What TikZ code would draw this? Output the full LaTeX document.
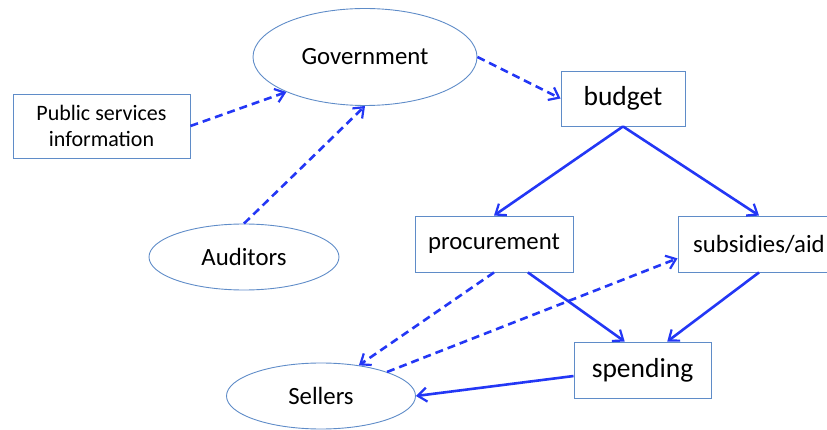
\documentclass[tikz,border=0pt]{standalone}
\usepackage{fontspec}
\setmainfont{Carlito}
\usepackage{xcolor}
\usetikzlibrary{shapes.geometric,arrows.meta}
\definecolor{boxline}{RGB}{95,140,200}
\definecolor{arrowblue}{RGB}{35,55,245}
\begin{document}
\begin{tikzpicture}[x=1pt,y=-1pt,
        ell/.style={ellipse,draw=boxline,line width=0.9pt,inner sep=0pt,font=\fontsize{24.8}{30}\selectfont},
        box/.style={rectangle,draw=boxline,line width=0.9pt,inner sep=0pt,font=\fontsize{24.8}{30}\selectfont},
        flow/.style={arrowblue,line width=2.6pt,-{Straight Barb[length=9pt,width=14pt,line width=2.2pt]}},
        hint/.style={flow,dash pattern=on 8pt off 5pt}]
        \useasboundingbox (0,0) rectangle (827,430);
        \node[ell,minimum width=224pt,minimum height=97pt] (gov) at (365,57) {Government};
        \node[ell,minimum width=190pt,minimum height=66pt] (aud) at (244,257) {Auditors};
        \node[ell,minimum width=189pt,minimum height=66pt] (sel) at (321,396) {Sellers};
        \node[box,minimum width=177pt,minimum height=64pt,align=center,font=\fontsize{22}{26}\selectfont] (pub) at (101.5,126) {Public services\\information};
        \node[box,minimum width=124pt,minimum height=55pt,font=\fontsize{27.5}{32}\selectfont] (bud) at (623,98.5) {budget};
        \node[box,minimum width=158pt,minimum height=56pt] (proc) at (494,244) {procurement};
        \node[box,minimum width=162pt,minimum height=56pt] (subs) at (759,244) {subsidies/aid};
        \node[box,minimum width=137pt,minimum height=56pt,font=\fontsize{27.5}{32}\selectfont] (spend) at (642.5,370) {spending};
        % dashed links
        \draw[hint] (pub.east) -- (gov.204);
        \draw[hint] (aud.north) -- (gov.south);
        \draw[hint] (gov.east) -- (bud.west);
        \draw[hint] (proc.south) -- (sel.39);
        \draw[hint] (sel.20) -- (subs.190);
        % solid links
        \draw[flow] (bud.south) -- (proc.north);
        \draw[flow] (bud.south) -- (subs.north);
        \draw[flow] (proc.320) -- (spend.122);
        \draw[flow] (subs.south) -- (spend.49);
        \draw[flow] (spend.185) -- (sel.east);
\end{tikzpicture}
\end{document}
